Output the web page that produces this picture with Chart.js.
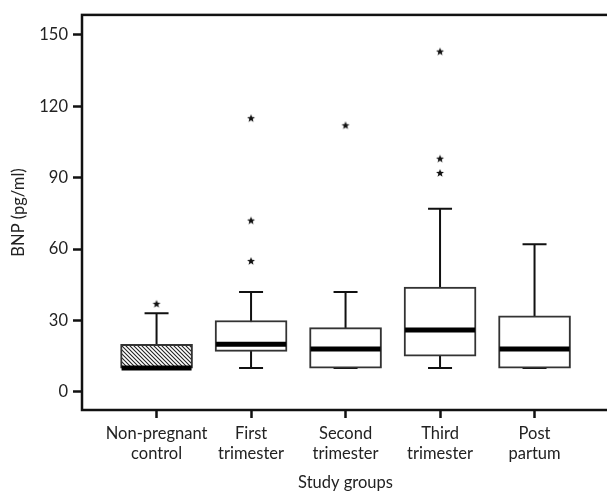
<!DOCTYPE html>
<html>
<head>
<meta charset="utf-8">
<script src="https://cdn.jsdelivr.net/npm/chart.js@4.4.1/dist/chart.umd.min.js"></script>
<style>
  html, body { margin: 0; padding: 0; background: #fff; overflow: hidden; }
  #wrap { width: 614px; height: 493px; }
</style>
</head>
<body>
<div id="wrap"><canvas id="chart"></canvas></div>
<script>
// groups and box plot values (pg/ml)
const groups = [['Non-pregnant', 'control'], ['First', 'trimester'], ['Second', 'trimester'], ['Third', 'trimester'], ['Post', 'partum']];
const whiskerLow = [10, 10, 10, 10, 10];
const q1 = [10, 17, 10, 15, 10];
const median = [10, 20, 18, 26, 18];
const q3 = [20, 30, 27, 44, 32];
const whiskerHigh = [33, 42, 42, 77, 62];
// outliers as [group index, value]
const outliers = [[0, 37], [1, 55], [1, 72], [1, 115], [2, 112], [3, 92], [3, 98], [3, 143]];
const yTicks = [0, 30, 60, 90, 120, 150];

const canvas = document.getElementById('chart');
const ctx = canvas.getContext('2d');

// hatch for the control group (white under the lines so the whisker is hidden)
const hatch = document.createElement('canvas');
hatch.width = 4; hatch.height = 4;
const hctx = hatch.getContext('2d');
hctx.fillStyle = '#fff';
hctx.fillRect(0, 0, 4, 4);
hctx.strokeStyle = '#222';
hctx.lineWidth = 1.1;
hctx.beginPath();
hctx.moveTo(-1, -1); hctx.lineTo(5, 5);
hctx.moveTo(3, -1); hctx.lineTo(5, 1);
hctx.moveTo(-1, 3); hctx.lineTo(1, 5);
hctx.stroke();
const hatchPattern = ctx.createPattern(hatch, 'repeat');

// small filled star for outliers
const star = document.createElement('canvas');
star.width = 10; star.height = 10;
const sctx = star.getContext('2d');
sctx.fillStyle = '#111';
sctx.beginPath();
for (let i = 0; i < 10; i++) {
  const r = i % 2 === 0 ? 4.2 : 1.8;
  const a = -Math.PI / 2 + i * Math.PI / 5;
  const px = 5 + r * Math.cos(a), py = 5.3 + r * Math.sin(a);
  if (i === 0) sctx.moveTo(px, py); else sctx.lineTo(px, py);
}
sctx.closePath();
sctx.fill();

const boxData = groups.map((g, i) => ({ x: i, y: [q1[i], q3[i]] }));
const outlierData = outliers.map(o => ({ x: o[0], y: o[1] }));

const boxPlotPlugin = {
  id: 'boxPlot',
  beforeDatasetsDraw(chart) {
    const c = chart.ctx, xs = chart.scales.x, ys = chart.scales.y;
    c.save();
    c.strokeStyle = '#111';
    c.lineWidth = 2;
    groups.forEach((g, i) => {
      const x = xs.getPixelForValue(i);
      c.beginPath();
      c.moveTo(x, ys.getPixelForValue(whiskerLow[i]));
      c.lineTo(x, ys.getPixelForValue(whiskerHigh[i]));
      [whiskerLow[i], whiskerHigh[i]].forEach(v => {
        const y = ys.getPixelForValue(v);
        c.moveTo(x - 12, y); c.lineTo(x + 12, y);
      });
      c.stroke();
    });
    c.restore();
  },
  afterDatasetsDraw(chart) {
    const c = chart.ctx, xs = chart.scales.x, ys = chart.scales.y, a = chart.chartArea;
    c.save();
    c.strokeStyle = '#000';
    c.lineWidth = 5;
    groups.forEach((g, i) => {
      const x = xs.getPixelForValue(i);
      const y = ys.getPixelForValue(median[i]);
      c.beginPath();
      c.moveTo(x - 35, y); c.lineTo(x + 35, y);
      c.stroke();
    });
    // frame
    c.lineWidth = 2.5;
    c.strokeStyle = '#111';
    c.strokeRect(a.left, a.top, a.right - a.left, a.bottom - a.top);
    c.restore();
  }
};

const font = { family: 'Lato', size: 16.5 };

new Chart(ctx, {
  data: {
    datasets: [{
      type: 'bar',
      data: boxData,
      backgroundColor: [hatchPattern, '#fff', '#fff', '#fff', '#fff'],
      borderColor: '#333',
      borderWidth: 2,
      borderSkipped: false,
      barThickness: 72,
      order: 2
    }, {
      type: 'scatter',
      data: outlierData,
      pointStyle: star,
      order: 1
    }]
  },
  options: {
    responsive: true,
    maintainAspectRatio: false,
    animation: false,
    layout: { padding: { top: 11, right: 3, left: 0, bottom: 0 } },
    plugins: { legend: { display: false }, tooltip: { enabled: false } },
    scales: {
      x: {
        type: 'linear',
        offset: false,
        min: -0.789,
        max: 4.788,
        afterBuildTicks: s => { s.ticks = groups.map((g, i) => ({ value: i })); },
        afterFit: s => { s.height = 83; },
        grid: { offset: false, drawOnChartArea: false, tickLength: 8, tickWidth: 2.5, tickColor: '#111' },
        border: { display: false },
        ticks: {
          padding: 6,
          color: '#222',
          font: { ...font, lineHeight: 1.21 },
          maxRotation: 0,
          autoSkip: false,
          callback: (v, i) => groups[i]
        },
        title: { display: true, text: 'Study groups', color: '#222', font: font, padding: { top: 0, bottom: 0 } }
      },
      y: {
        min: -7.6,
        max: 158.4,
        afterBuildTicks: s => { s.ticks = yTicks.map(v => ({ value: v })); },
        afterFit: s => { s.width = 82; },
        grid: { drawOnChartArea: false, tickLength: 9, tickWidth: 2.5, tickColor: '#111' },
        border: { display: false },
        ticks: { padding: 5, color: '#222', font: font },
        title: { display: true, text: 'BNP (pg/ml)', color: '#222', font: font, padding: { top: 9, bottom: 0 } }
      }
    }
  },
  plugins: [boxPlotPlugin]
});
</script>
</body>
</html>
